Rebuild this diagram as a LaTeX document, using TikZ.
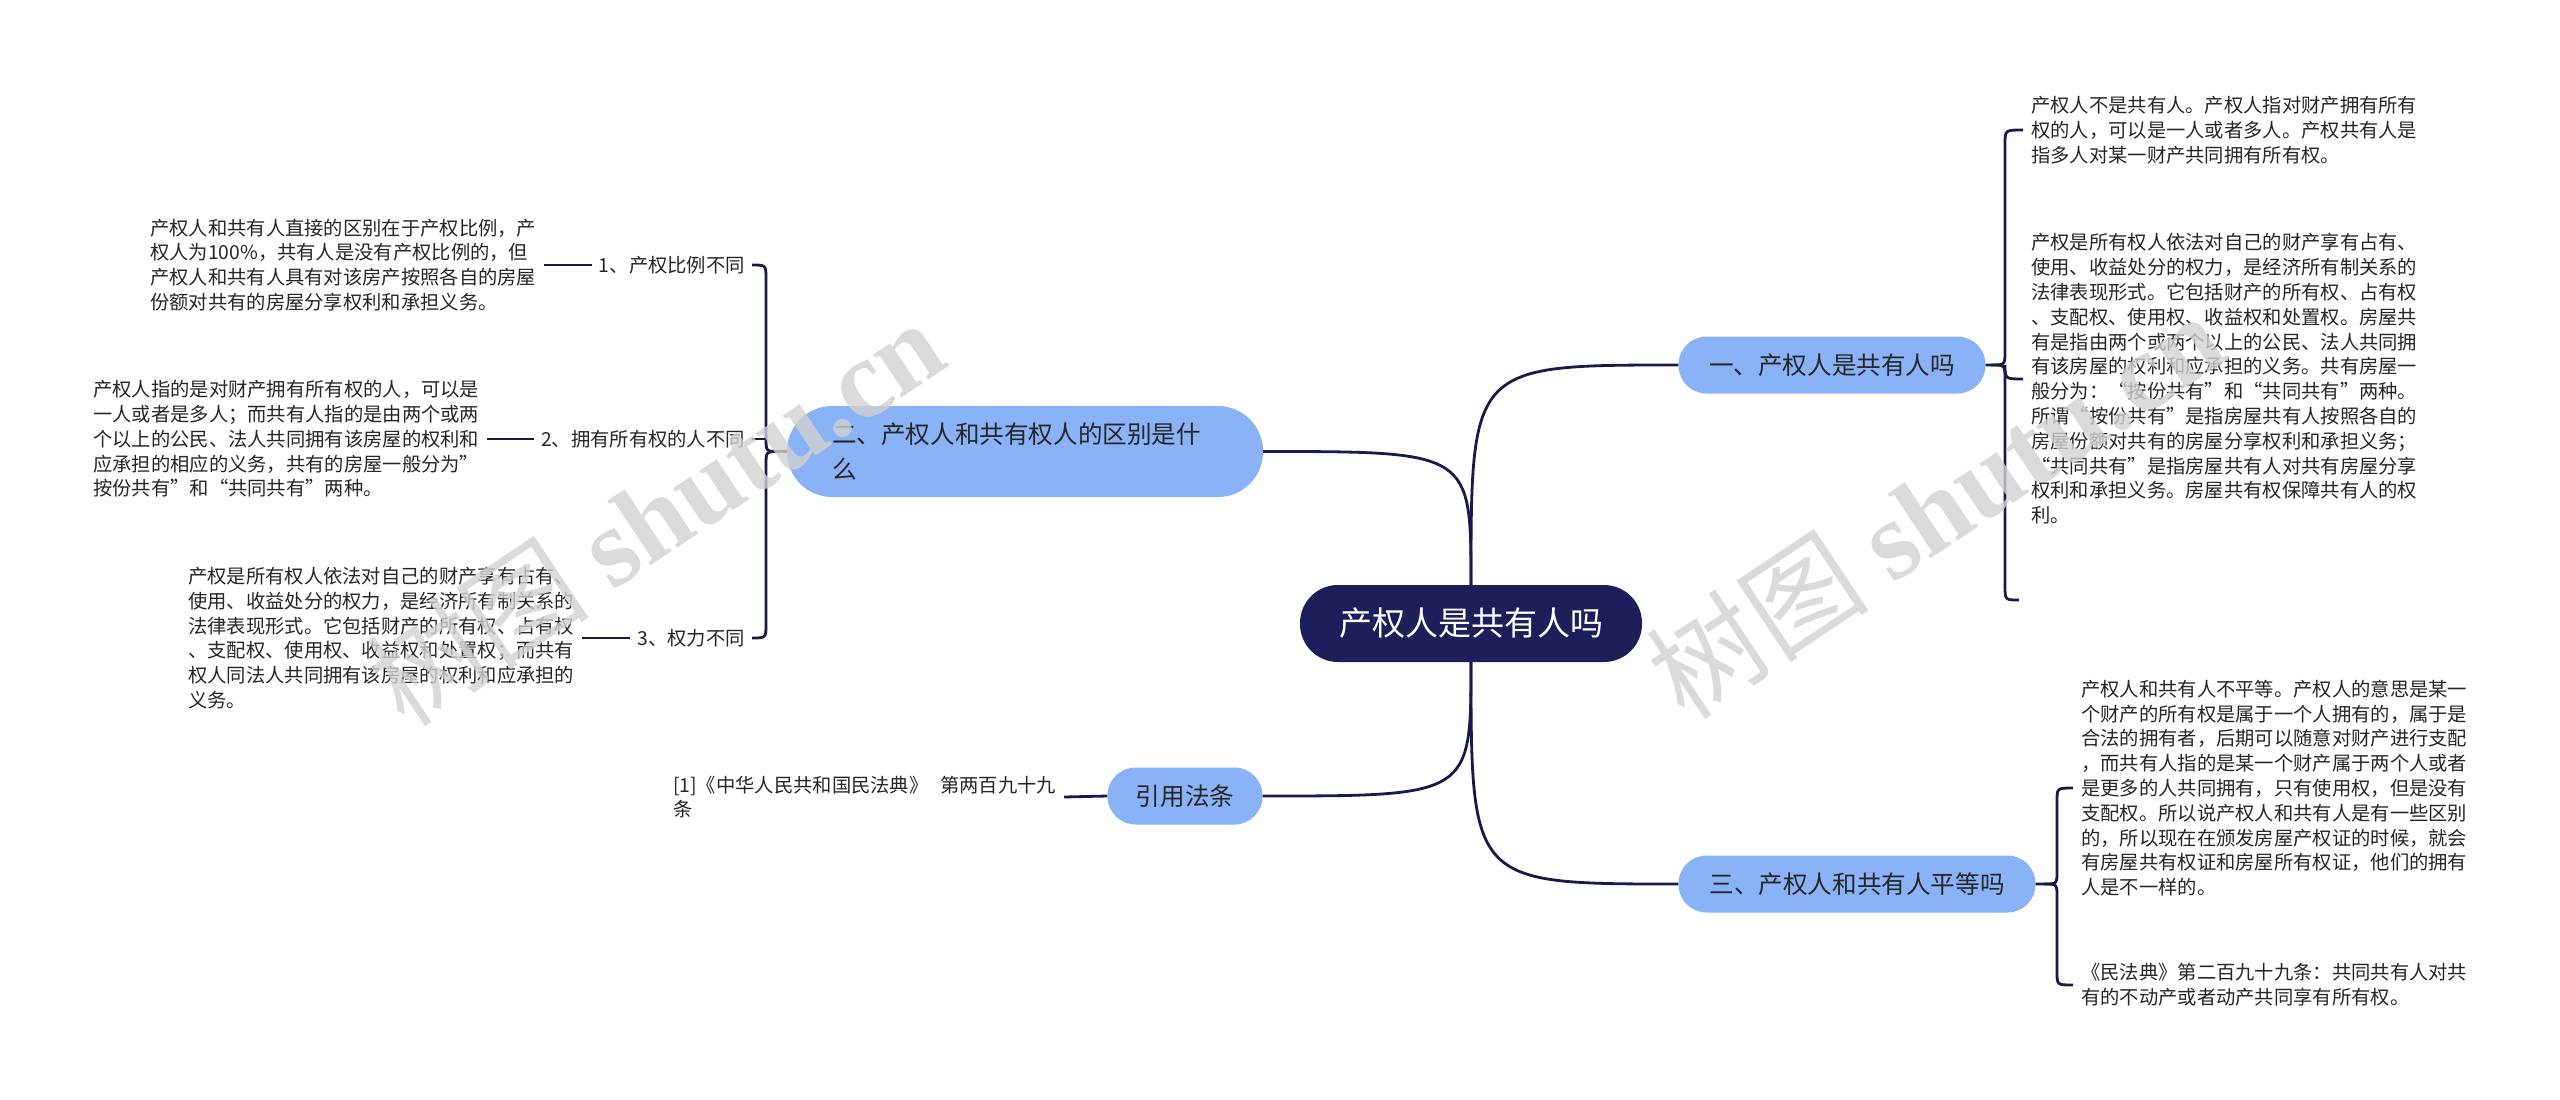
\documentclass[tikz,border=0pt]{standalone}
\usepackage{fontspec}
\setmainfont{Noto Sans CJK SC}
\newfontfamily\wmlatin{Liberation Serif}
\usetikzlibrary{calc}
\definecolor{rootc}{HTML}{1E1E5A}
\definecolor{branchc}{HTML}{89B2F7}
\definecolor{linec}{HTML}{1A1A4A}
\definecolor{txt}{HTML}{262626}
\definecolor{wm}{HTML}{D2D2D2}
\tikzset{
  conn/.style={draw=linec, line width=2.8pt},
  rootbox/.style={fill=rootc, text=white, rounded corners=38pt, minimum width=342pt, minimum height=77pt, inner sep=0pt, font=\fontsize{33}{40}\selectfont},
  branchbox/.style={fill=branchc, text=txt, rounded corners=28pt, minimum height=57pt, inner sep=0pt, font=\fontsize{24.6}{35}\selectfont},
  leaf/.style={text=txt, align=left, inner xsep=8pt, inner ysep=3pt, font=\fontsize{19.3}{24.8}\selectfont},
  wmark/.style={text=wm, text opacity=0.8, rotate=33.7, inner sep=0pt, font=\fontsize{112}{120}\selectfont}
}
\begin{document}
\begin{tikzpicture}[x=1pt,y=-1pt]
\useasboundingbox (0,0) rectangle (2560,1100);
\fill[white] (0,0) rectangle (2560,1100);

% root and branches
\node[rootbox] (root) at (1471,623.5) {产权人是共有人吗};
\node[branchbox, minimum width=307pt] (n1) at (1832,365) {一、产权人是共有人吗};
\node[branchbox, minimum width=476pt, minimum height=91pt, rounded corners=45pt, text width=386pt, align=left] (n2) at (1025,451.5) {二、产权人和共有权人的区别是什\\么};
\node[branchbox, minimum width=357pt] (n3) at (1857,884) {三、产权人和共有人平等吗};
\node[branchbox, minimum width=155pt] (n4) at (1185,796) {引用法条};

% right leaves
\node[leaf, anchor=west] (r11) at (2023,130) {产权人不是共有人。产权人指对财产拥有所有\\权的人，可以是一人或者多人。产权共有人是\\指多人对某一财产共同拥有所有权。};
\node[leaf, anchor=west] (r12) at (2023,379) {产权是所有权人依法对自己的财产享有占有、\\使用、收益处分的权力，是经济所有制关系的\\法律表现形式。它包括财产的所有权、占有权\\、支配权、使用权、收益权和处置权。房屋共\\有是指由两个或两个以上的公民、法人共同拥\\有该房屋的权利和应承担的义务。共有房屋一\\般分为：“按份共有”和“共同共有”两种。\\所谓“按份共有”是指房屋共有人按照各自的\\房屋份额对共有的房屋分享权利和承担义务；\\“共同共有”是指房屋共有人对共有房屋分享\\权利和承担义务。房屋共有权保障共有人的权\\利。};
\node[leaf, anchor=west] (r31) at (2073,788) {产权人和共有人不平等。产权人的意思是某一\\个财产的所有权是属于一个人拥有的，属于是\\合法的拥有者，后期可以随意对财产进行支配\\，而共有人指的是某一个财产属于两个人或者\\是更多的人共同拥有，只有使用权，但是没有\\支配权。所以说产权人和共有人是有一些区别\\的，所以现在在颁发房屋产权证的时候，就会\\有房屋共有权证和房屋所有权证，他们的拥有\\人是不一样的。};
\node[leaf, anchor=west] (r32) at (2073,985) {《民法典》第二百九十九条：共同共有人对共\\有的不动产或者动产共同享有所有权。};

% left labels and descriptions
\node[leaf, anchor=east, inner xsep=7pt] (l1) at (752,265) {1、产权比例不同};
\node[leaf, anchor=east, inner xsep=7pt] (l2) at (752,439) {2、拥有所有权的人不同};
\node[leaf, anchor=east, inner xsep=7pt] (l3) at (752,638) {3、权力不同};
\node[leaf, anchor=west] (d1) at (142,265) {产权人和共有人直接的区别在于产权比例，产\\权人为100\%，共有人是没有产权比例的，但\\产权人和共有人具有对该房产按照各自的房屋\\份额对共有的房屋分享权利和承担义务。};
\node[leaf, anchor=west] (d2) at (85,439) {产权人指的是对财产拥有所有权的人，可以是\\一人或者是多人；而共有人指的是由两个或两\\个以上的公民、法人共同拥有该房屋的权利和\\应承担的相应的义务，共有的房屋一般分为”\\按份共有”和“共同共有”两种。};
\node[leaf, anchor=west] (d3) at (180,638) {产权是所有权人依法对自己的财产享有占有、\\使用、收益处分的权力，是经济所有制关系的\\法律表现形式。它包括财产的所有权、占有权\\、支配权、使用权、收益权和处置权；而共有\\权人同法人共同拥有该房屋的权利和应承担的\\义务。};
\node[leaf, anchor=west] (t4) at (665,797) {[1]《中华人民共和国民法典》\hspace{0.6em}第两百九十九\\条};

% root connectors
\draw[conn] (root.north) .. controls (root.north |- n1.west) .. (n1.west);
\draw[conn] (root.north) .. controls (root.north |- n2.east) .. (n2.east);
\draw[conn] (root.south) .. controls (root.south |- n3.west) .. (n3.west);
\draw[conn] (root.south) .. controls (root.south |- n4.east) .. (n4.east);

% brace for branch one
\coordinate (b1end) at (2019,600);
\draw[conn] (n1.east) -- (1991,365) .. controls (2005,365) .. (2005,351) -- (2005,144) .. controls (2005,130) .. (r11.west);
\draw[conn] (1991,365) .. controls (2005,365) .. (2005,379) -- (2005,586) .. controls (2005,600) .. (b1end);
\draw[conn] (2005,365) .. controls (2005,379) .. (r12.west);

% brace for branch three
\draw[conn] (n3.east) -- (2044,884) .. controls (2057,884) .. (2057,871) -- (2057,801) .. controls (2057,788) .. (r31.west);
\draw[conn] (2044,884) .. controls (2057,884) .. (2057,897) -- (2057,972) .. controls (2057,985) .. (r32.west);

% brace for branch two
\draw[conn] (n2.west) -- (779,451.5) .. controls (766,451.5) .. (766,438) -- (766,279) .. controls (766,265) .. (l1.east);
\draw[conn] (779,451.5) .. controls (766,451.5) .. (766,465) -- (766,624) .. controls (766,638) .. (l3.east);
\draw[conn] (766,439) -- (l2.east);

% label to description
\draw[conn] (l1.west) -- (d1.east);
\draw[conn] (l2.west) -- (d2.east);
\draw[conn] (l3.west) -- (d3.east);
\draw[conn] (n4.west) -- (t4.east);

% watermarks
\node[wmark] (wm1) at (655,512) {树图 {\wmlatin\bfseries shutu.cn}};
\node[wmark] (wm2) at (1935,505) {树图 {\wmlatin\bfseries shutu.cn}};
\end{tikzpicture}
\end{document}
